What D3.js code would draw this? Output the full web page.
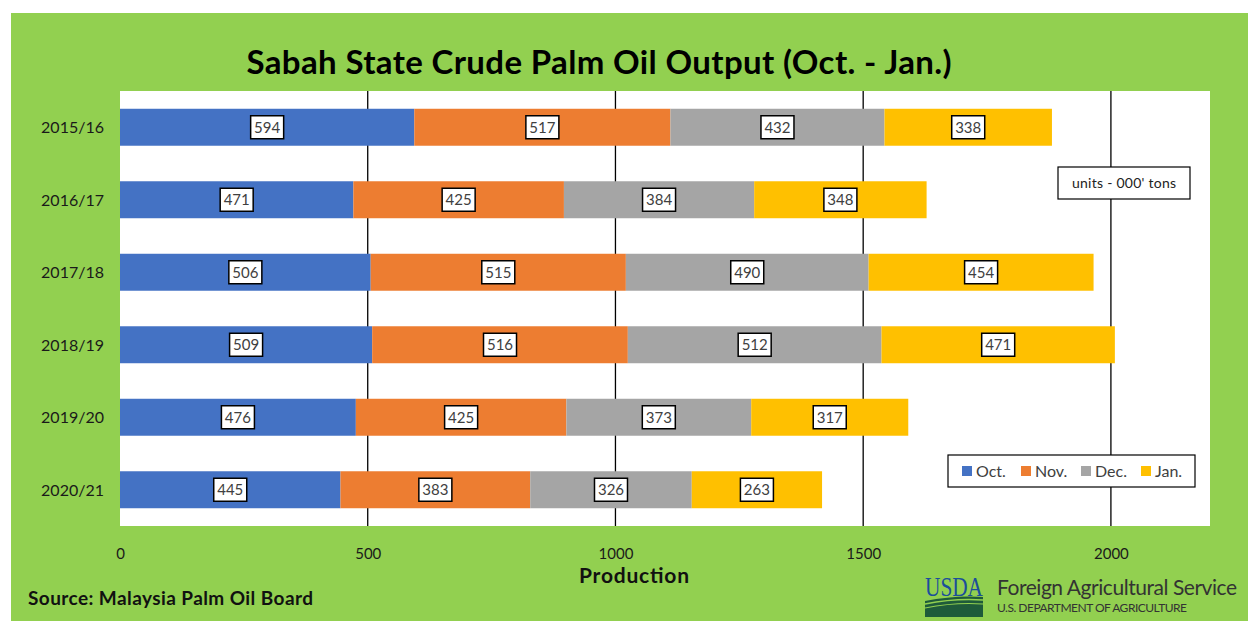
<!DOCTYPE html>
<html>
<head>
<meta charset="utf-8">
<script src="https://cdn.jsdelivr.net/npm/d3@7"></script>
<style>
  body { margin: 0; background: #fff; }
  svg { display: block; font-family: Lato, "Open Sans", sans-serif; }
</style>
</head>
<body>
<svg id="chart"></svg>
<script>
const seasons = ['2015/16', '2016/17', '2017/18', '2018/19', '2019/20', '2020/21'];
const months = ['Oct.', 'Nov.', 'Dec.', 'Jan.'];
const octValues = [594, 471, 506, 509, 476, 445];
const novValues = [517, 425, 515, 516, 425, 383];
const decValues = [432, 384, 490, 512, 373, 326];
const janValues = [338, 348, 454, 471, 317, 263];
const xTicks = [0, 500, 1000, 1500, 2000];
const colors = ['#4472C4', '#ED7D31', '#A5A5A5', '#FFC000'];

const width = 1248;
const height = 621;
const plot = { left: 120, right: 1210, top: 91, bottom: 526 };

const rows = seasons.map((s, i) => ({
  season: s,
  'Oct.': octValues[i],
  'Nov.': novValues[i],
  'Dec.': decValues[i],
  'Jan.': janValues[i]
}));

const svg = d3.select('#chart')
  .attr('width', width)
  .attr('height', height);

// green background
svg.append('rect')
  .attr('x', 11).attr('y', 13)
  .attr('width', width - 11).attr('height', height - 13)
  .attr('fill', '#92D050');

svg.append('rect')
  .attr('x', plot.left).attr('y', plot.top)
  .attr('width', plot.right - plot.left).attr('height', plot.bottom - plot.top)
  .attr('fill', '#fff');

const xScale = d3.scaleLinear()
  .domain([0, 2200])
  .range([plot.left, plot.right]);

const yScale = d3.scaleBand()
  .domain(seasons)
  .range([plot.top, plot.bottom])
  .paddingInner(0.49)
  .paddingOuter(0.245);

const colorScale = d3.scaleOrdinal()
  .domain(months)
  .range(colors);

// gridlines
svg.append('g')
  .selectAll('line')
  .data(xTicks.filter(t => t > 0))
  .join('line')
  .attr('x1', d => xScale(d)).attr('x2', d => xScale(d))
  .attr('y1', plot.top).attr('y2', plot.bottom)
  .attr('stroke', '#000')
  .attr('stroke-width', 1.3);

const stacked = d3.stack().keys(months)(rows);

const layers = svg.append('g')
  .selectAll('g')
  .data(stacked)
  .join('g')
  .attr('fill', d => colorScale(d.key));

layers.selectAll('rect')
  .data(d => d)
  .join('rect')
  .attr('x', d => xScale(d[0]))
  .attr('y', d => yScale(d.data.season))
  .attr('width', d => xScale(d[1]) - xScale(d[0]))
  .attr('height', yScale.bandwidth());

// value labels
const labels = svg.append('g')
  .selectAll('g')
  .data(stacked.flatMap(layer => layer.map(d => ({ key: layer.key, d }))))
  .join('g')
  .attr('transform', o => {
    const cx = (xScale(o.d[0]) + xScale(o.d[1])) / 2;
    const cy = yScale(o.d.data.season) + yScale.bandwidth() / 2;
    return `translate(${cx}, ${cy})`;
  });

labels.append('rect')
  .attr('x', -16.5).attr('y', -11.5)
  .attr('width', 33).attr('height', 23)
  .attr('fill', '#fff')
  .attr('stroke', '#000')
  .attr('stroke-width', 1.5);

labels.append('text')
  .attr('text-anchor', 'middle')
  .attr('dy', '0.36em')
  .attr('font-size', 15)
  .attr('fill', '#404040')
  .text(o => o.d.data[o.key]);

// y axis labels
svg.append('g')
  .selectAll('text')
  .data(seasons)
  .join('text')
  .attr('x', 104)
  .attr('y', d => yScale(d) + yScale.bandwidth() / 2)
  .attr('dy', '0.36em')
  .attr('text-anchor', 'end')
  .attr('font-size', 16)
  .attr('fill', '#1a1a1a')
  .text(d => d);

// x axis labels
const xAxis = svg.append('g')
  .attr('transform', `translate(0, ${plot.bottom})`)
  .call(d3.axisBottom(xScale).tickValues(xTicks).tickFormat(d3.format('d')).tickSize(0).tickPadding(22));
xAxis.select('.domain').remove();
xAxis.selectAll('text')
  .attr('font-size', 15)
  .attr('font-family', 'Lato, sans-serif')
  .attr('fill', '#1a1a1a');

svg.append('text')
  .attr('x', 634).attr('y', 583)
  .attr('text-anchor', 'middle')
  .attr('font-size', 21)
  .attr('font-weight', 'bold')
  .attr('fill', '#111')
  .attr('textLength', 110)
  .text('Production');

// title
svg.append('text')
  .attr('x', 599).attr('y', 74)
  .attr('text-anchor', 'middle')
  .attr('font-size', 33)
  .attr('font-weight', 'bold')
  .attr('fill', '#000')
  .attr('textLength', 705)
  .text('Sabah State Crude Palm Oil Output (Oct. - Jan.)');

// units box
svg.append('rect')
  .attr('x', 1058).attr('y', 167)
  .attr('width', 132).attr('height', 32)
  .attr('fill', '#fff').attr('stroke', '#000').attr('stroke-width', 1.2);
svg.append('text')
  .attr('x', 1124).attr('y', 183)
  .attr('dy', '0.36em')
  .attr('text-anchor', 'middle')
  .attr('font-size', 14)
  .attr('fill', '#222')
  .attr('textLength', 104)
  .text("units - 000' tons");

// legend
const legend = svg.append('g').attr('transform', 'translate(948, 455)');
legend.append('rect')
  .attr('width', 247).attr('height', 32)
  .attr('fill', '#fff').attr('stroke', '#000').attr('stroke-width', 1.2);
const legendX = [14, 73, 133, 193];
const items = legend.selectAll('g')
  .data(months)
  .join('g')
  .attr('transform', (d, i) => `translate(${legendX[i]}, 16)`);
items.append('rect')
  .attr('x', 0).attr('y', -5)
  .attr('width', 10).attr('height', 10)
  .attr('fill', d => colorScale(d));
items.append('text')
  .attr('x', 14)
  .attr('dy', '0.36em')
  .attr('font-size', 16)
  .attr('fill', '#404040')
  .text(d => d);

// source
svg.append('text')
  .attr('x', 28).attr('y', 605)
  .attr('font-size', 19)
  .attr('font-weight', 'bold')
  .attr('fill', '#111')
  .attr('textLength', 285)
  .text('Source: Malaysia Palm Oil Board');

// USDA logo
const logo = svg.append('g').attr('transform', 'translate(925, 574)');
logo.append('text')
  .attr('x', 0).attr('y', 22)
  .attr('font-family', '"Liberation Serif", serif')
  .attr('font-size', 27)
  .attr('fill', '#1B4E9B')
  .attr('textLength', 58)
  .attr('lengthAdjust', 'spacingAndGlyphs')
  .text('USDA');
logo.append('path')
  .attr('d', 'M0,27 Q30,21 58,23 L58,43 L0,43 Z')
  .attr('fill', '#1E5B3A');
logo.append('path')
  .attr('d', 'M0,30 Q30,24 58,26')
  .attr('fill', 'none').attr('stroke', '#92D050').attr('stroke-width', 1.5);
logo.append('path')
  .attr('d', 'M0,34 Q30,28 58,30')
  .attr('fill', 'none').attr('stroke', '#92D050').attr('stroke-width', 1.2);

svg.append('text')
  .attr('x', 997).attr('y', 595)
  .attr('font-size', 21)
  .attr('fill', '#333')
  .attr('textLength', 240)
  .text('Foreign Agricultural Service');
svg.append('text')
  .attr('x', 997).attr('y', 612)
  .attr('font-size', 12)
  .attr('fill', '#333')
  .attr('textLength', 190)
  .text('U.S. DEPARTMENT OF AGRICULTURE');
</script>
</body>
</html>
